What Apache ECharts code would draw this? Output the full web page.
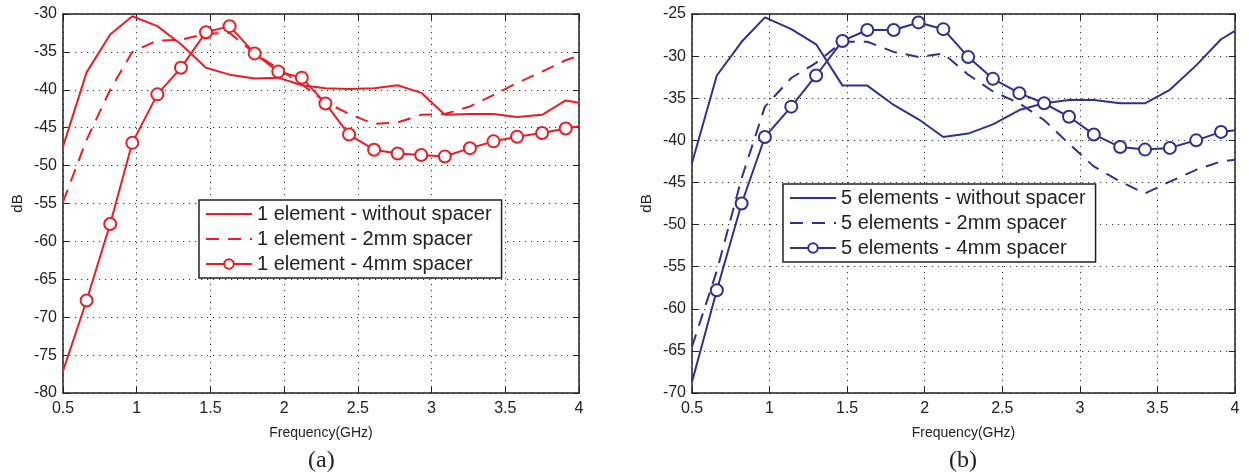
<!DOCTYPE html>
<html>
<head>
<meta charset="utf-8">
<script src="https://cdn.jsdelivr.net/npm/echarts@6/dist/echarts.min.js"></script>
<style>
  html, body { margin: 0; padding: 0; background: #fff; }
  #chart { width: 1249px; height: 476px; }
</style>
</head>
<body>
<div id="chart"></div>
<script>
// frequency points (GHz), shared by both panels
var freq = [0.5, 0.66, 0.82, 0.97, 1.14, 1.30, 1.47, 1.63, 1.80, 1.96, 2.12, 2.28,
            2.44, 2.61, 2.77, 2.93, 3.09, 3.26, 3.42, 3.58, 3.75, 3.91, 4.0];

// (a) 1 element
var oneNoSpacer = [-47.5, -37.7, -32.7, -30.3, -31.6, -34.0, -37.1, -38.0, -38.5, -38.4, -39.4, -39.8,
                   -39.9, -39.8, -39.4, -40.4, -43.3, -43.2, -43.2, -43.6, -43.3, -41.4, -41.7];
var one2mm = [-54.8, -46.6, -40.0, -35.0, -33.5, -33.4, -32.6, -32.5, -35.2, -37.2, -39.3, -41.6,
              -43.2, -44.5, -44.3, -43.3, -43.2, -42.2, -40.7, -39.1, -37.6, -36.1, -35.5];
var one4mm = [-77.1, -67.8, -57.7, -47.0, -40.6, -37.1, -32.4, -31.6, -35.2, -37.6, -38.4, -41.8,
              -45.9, -47.9, -48.4, -48.6, -48.8, -47.7, -46.8, -46.2, -45.7, -45.1, -44.8];

// (b) 5 elements
var fiveNoSpacer = [-42.7, -32.3, -28.3, -25.4, -26.8, -28.6, -33.5, -33.5, -35.8, -37.5, -39.6, -39.2,
                    -38.1, -36.4, -35.6, -35.2, -35.2, -35.6, -35.6, -34.0, -31.1, -28.0, -27.0];
var five2mm = [-64.5, -55.5, -44.5, -36.0, -32.6, -30.8, -28.3, -28.3, -29.5, -30.1, -29.7, -32.2,
               -34.2, -35.6, -37.6, -40.4, -43.1, -44.9, -46.3, -44.9, -43.5, -42.5, -42.3];
var five4mm = [-68.7, -57.8, -47.5, -39.6, -36.0, -32.3, -28.2, -26.9, -26.9, -26.0, -26.8, -30.1,
               -32.7, -34.4, -35.6, -37.2, -39.3, -40.8, -41.1, -40.9, -40.0, -39.0, -38.8];

var namesA = ['1 element - without spacer', '1 element - 2mm spacer', '1 element - 4mm spacer'];
var namesB = ['5 elements - without spacer', '5 elements - 2mm spacer', '5 elements - 4mm spacer'];
var red = '#ed1c24';
var blue = '#2e3192';
var ink = '#222';
var font = 'Liberation Sans, Arial, sans-serif';

function pairs(ys) {
    return freq.map(function (f, i) { return [f, ys[i]]; });
}

// markers on interior points only (ends are clipped in the original)
function markerSym(v, p) {
    return (p.dataIndex === 0 || p.dataIndex === freq.length - 1) ? 'none' : 'emptyCircle';
}

function makeSeries(name, ys, color, kind, idx) {
    var s = {
        name: name,
        type: 'line',
        xAxisIndex: idx,
        yAxisIndex: idx,
        data: pairs(ys),
        lineStyle: { color: color, width: 2, type: kind === 'dash' ? [13, 9] : 'solid' },
        itemStyle: { color: color, borderColor: color, borderWidth: 2 },
        symbol: 'none',
        z: kind === 'circle' ? 4 : 3
    };
    if (kind === 'circle') {
        s.symbol = markerSym;
        s.symbolSize = 12;
        s.showSymbol = true;
    }
    return s;
}

function xAxes(idx) {
    return [{
        type: 'value', gridIndex: idx, min: 0.5, max: 4, interval: 0.5,
        name: 'Frequency(GHz)', nameLocation: 'middle', nameGap: 33,
        nameTextStyle: { fontSize: 14, color: ink, fontFamily: font },
        axisLine: { lineStyle: { color: ink, width: 1.5 } },
        axisTick: { inside: true, length: 6, lineStyle: { color: ink } },
        axisLabel: { fontSize: 16, color: ink, fontFamily: font, margin: 8 },
        splitLine: { show: true, lineStyle: { color: '#333', width: 1, type: [1.2, 4.8] } }
    }, {
        type: 'value', gridIndex: idx, min: 0.5, max: 4, interval: 0.5, position: 'top',
        axisLine: { lineStyle: { color: ink, width: 1.5 } },
        axisTick: { inside: true, length: 6, lineStyle: { color: ink } },
        axisLabel: { show: false },
        splitLine: { show: false }
    }];
}

function yAxes(idx, lo, hi) {
    return [{
        type: 'value', gridIndex: idx, min: lo, max: hi, interval: 5,
        name: 'dB', nameLocation: 'middle', nameGap: 38,
        nameTextStyle: { fontSize: 15, color: ink, fontFamily: font },
        axisLine: { lineStyle: { color: ink, width: 1.5 } },
        axisTick: { inside: true, length: 6, lineStyle: { color: ink } },
        axisLabel: { fontSize: 16, color: ink, fontFamily: font, margin: 6 },
        splitLine: { show: true, lineStyle: { color: '#333', width: 1, type: [1.2, 4.8] } }
    }, {
        type: 'value', gridIndex: idx, min: lo, max: hi, interval: 5, position: 'right',
        axisLine: { lineStyle: { color: ink, width: 1.5 } },
        axisTick: { inside: true, length: 6, lineStyle: { color: ink } },
        axisLabel: { show: false },
        splitLine: { show: false }
    }];
}

// legend entries: plain line for solid/dashed, line + hollow circle for 4mm
function legendItems(names, color) {
    return names.map(function (n, i) {
        return i < 2
            ? { name: n, itemStyle: { opacity: 0 } }
            : { name: n, itemStyle: { color: '#fff', borderColor: color, borderWidth: 2 } };
    });
}

function legendBox(names, color, left, top) {
    return {
        data: legendItems(names, color),
        orient: 'vertical',
        left: left, top: top,
        itemWidth: 46, itemHeight: 12, itemGap: 5,
        padding: [4, 10, 4, 6],
        borderColor: ink, borderWidth: 1.5,
        backgroundColor: '#fff',
        textStyle: { fontSize: 20, color: ink, fontFamily: font }
    };
}

var myChart = echarts.init(document.getElementById('chart'));
var xs = xAxes(0).concat(xAxes(1));
var ys = yAxes(0, -80, -30).concat(yAxes(1, -70, -25));
// axis index order: 0 bottom(a), 1 top(a), 2 bottom(b), 3 top(b)
xs[2].gridIndex = 1; xs[3].gridIndex = 1;
ys[2].gridIndex = 1; ys[3].gridIndex = 1;

var option = {
    animation: false,
    backgroundColor: '#fff',
    title: [
        { text: '(a)', left: 303, top: 444, textStyle: { fontFamily: 'Liberation Serif, Times New Roman, serif', fontSize: 24, fontWeight: 'normal', color: ink } },
        { text: '(b)', left: 944, top: 444, textStyle: { fontFamily: 'Liberation Serif, Times New Roman, serif', fontSize: 24, fontWeight: 'normal', color: ink } }
    ],
    legend: [legendBox(namesA, red, 199, 200), legendBox(namesB, blue, 783, 184)],
    grid: [
        { left: 63, top: 14, width: 516, height: 379 },
        { left: 692, top: 14, width: 543, height: 379 }
    ],
    xAxis: xs,
    yAxis: ys,
    series: [
        makeSeries(namesA[0], oneNoSpacer, red, 'solid', 0),
        makeSeries(namesA[1], one2mm, red, 'dash', 0),
        makeSeries(namesA[2], one4mm, red, 'circle', 0),
        makeSeries(namesB[0], fiveNoSpacer, blue, 'solid', 2),
        makeSeries(namesB[1], five2mm, blue, 'dash', 2),
        makeSeries(namesB[2], five4mm, blue, 'circle', 2)
    ]
};
myChart.setOption(option);
</script>
</body>
</html>
